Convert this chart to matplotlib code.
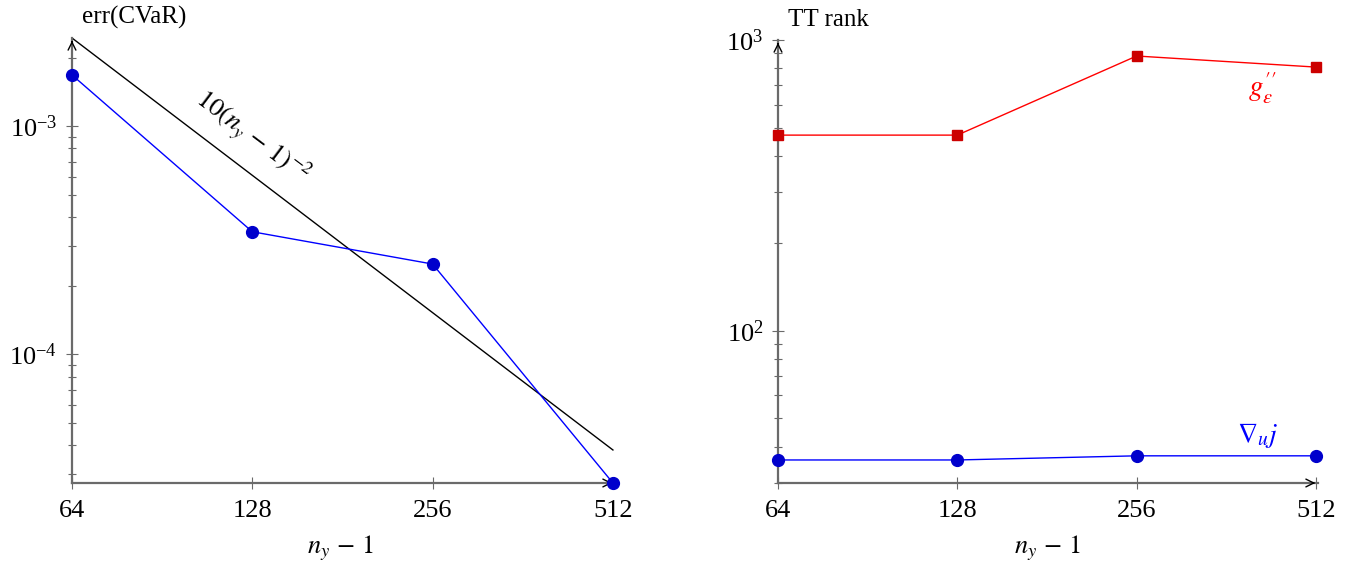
import matplotlib.pyplot as plt
from matplotlib.ticker import LogLocator, NullLocator, LogFormatterMathtext
import numpy as np

plt.rcParams['font.family'] = 'serif'
plt.rcParams['font.serif'] = ['Liberation Serif', 'DejaVu Serif']
plt.rcParams['mathtext.fontset'] = 'stix'
plt.rcParams['font.size'] = 18

# data
ny = [64, 128, 256, 512]
err_cvar = [1.68e-3, 3.45e-4, 2.49e-4, 2.73e-5]
ref_x = [64, 512]
ref_y = [2.44e-3, 3.81e-5]
rank_g = [471, 471, 881, 807]
rank_grad = [36.0, 36.0, 37.2, 37.2]
xtick_labels = ['64', '128', '256', '512']

W, H = 1359, 568
fig = plt.figure(figsize=(W / 100, H / 100), dpi=100)

def px_axes(left, top, right, bottom):
    return fig.add_axes([left / W, 1 - bottom / H, (right - left) / W, (bottom - top) / H])

def px_text(x, y, s, **kw):
    # position given in pixels from top-left of the image
    fig.text(x / W, 1 - y / H, s, **kw)

axL = px_axes(72, 38, 615, 483)
axR = px_axes(778, 40, 1318, 483)

gray = '#6a6a6a'

def style(ax, ylim):
    ax.set_xscale('log', base=2)
    ax.set_yscale('log')
    ax.set_xlim(64, 512 * 1.008)
    ax.set_ylim(*ylim)
    ax.set_xticks(ny)
    ax.set_xticklabels(xtick_labels)
    ax.xaxis.set_minor_locator(NullLocator())
    ax.yaxis.set_major_locator(LogLocator(base=10))
    ax.yaxis.set_major_formatter(LogFormatterMathtext())
    ax.yaxis.set_minor_locator(LogLocator(base=10, subs=np.arange(2, 10)))
    for s in ['top', 'right']:
        ax.spines[s].set_visible(False)
    for s in ['left', 'bottom']:
        ax.spines[s].set_color(gray)
        ax.spines[s].set_linewidth(1.6)
    ax.tick_params(which='major', direction='inout', length=9, width=0.8, color=gray, pad=6,
                   labelsize=19)
    ax.tick_params(which='minor', direction='inout', length=6, width=0.8, color=gray)
    ax.tick_params(axis='x', pad=8)
    # arrow heads at axis ends
    ax.annotate('', xy=(1.0, 0), xytext=(0.985, 0), xycoords='axes fraction',
                arrowprops=dict(arrowstyle='->', color='black', lw=1.0, mutation_scale=14))
    ax.annotate('', xy=(0, 1.0), xytext=(0, 0.985), xycoords='axes fraction',
                arrowprops=dict(arrowstyle='->', color='black', lw=1.0, mutation_scale=14))

style(axL, (2.73e-5, 2.44e-3))
style(axR, (30, 1000))

# left: error of CVaR
axL.plot(ref_x, ref_y, color='black', lw=1.0)
axL.plot(ny, err_cvar, color='blue', lw=1.0, marker='o', markersize=8.5,
         markerfacecolor='#0000cc', markeredgecolor='#0000cc', clip_on=False, zorder=3)
px_text(252, 138, r'$10(n_y\,-\,1)^{-2}$', rotation=-37, ha='center', va='center', fontsize=19)
px_text(82, 17, 'err(CVaR)', ha='left', va='center', fontsize=18)
px_text(340, 548, r'$n_y\,-\,1$', ha='center', va='center', fontsize=19)

# right: TT ranks
axR.plot(ny, rank_g, color='red', lw=1.0, marker='s', markersize=7.5,
         markerfacecolor='#cc0000', markeredgecolor='#cc0000', clip_on=False, zorder=3)
axR.plot(ny, rank_grad, color='blue', lw=1.0, marker='o', markersize=8.5,
         markerfacecolor='#0000cc', markeredgecolor='#0000cc', clip_on=False, zorder=3)
px_text(1262, 88, r"$g_{\varepsilon}^{\prime\prime}$", color='red', ha='center', va='center', fontsize=21)
px_text(1258, 435, r'$\nabla_u j$', color='blue', ha='center', va='center', fontsize=20)
px_text(788, 20, 'TT rank', ha='left', va='center', fontsize=18)
px_text(1047, 548, r'$n_y\,-\,1$', ha='center', va='center', fontsize=19)

fig.savefig('out.png', dpi=100)
